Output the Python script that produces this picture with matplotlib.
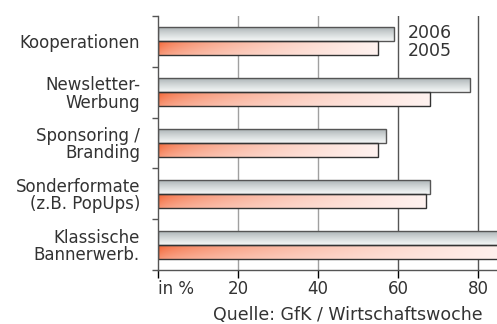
import numpy as np
import matplotlib.pyplot as plt

# Werbeformen, Angaben in %
categories = ["Kooperationen", "Newsletter-\nWerbung", "Sponsoring /\nBranding",
              "Sonderformate\n(z.B. PopUps)", "Klassische\nBannerwerb."]
vals_2006 = [59, 78, 57, 68, 90]
vals_2005 = [55, 68, 55, 67, 88]
xticks = [0, 20, 40, 60, 80]
xtick_labels = ["in %", "20", "40", "60", "80"]

TXT = "#333333"
DARK = "#555555"

fig = plt.figure(figsize=(4.97, 3.24), dpi=100)
ax = fig.add_axes([158 / 497, 54 / 324, 339 / 497, 254 / 324])

# gridlines (light for 20/40, dark for 60/80)
grid_cols = {0: DARK, 20: "#a0a0a0", 40: "#a0a0a0", 60: DARK, 80: DARK}
for x in xticks[1:]:
    ax.axvline(x, color=grid_cols[x], lw=1, zorder=1)

h = 0.275
off = 0.137


def silver(n=40):
    t = np.linspace(0, 1, n)[:, None, None] ** 0.8
    dark = np.array([0.66, 0.69, 0.70])
    light = np.array([0.96, 0.97, 0.97])
    img = dark + (light - dark) * t
    return np.repeat(img, 2, axis=1)


def orange(n=40, m=200):
    t = np.linspace(0, 1, n)[:, None, None]
    s = np.linspace(0, 1, m)[None, :, None]
    org = np.array([0.95, 0.36, 0.16])
    end = np.array([1.0, 0.95, 0.94])
    k = (1 - s ** 0.5) * (1 - 0.35 * t)
    return end - (end - org) * k


for i, (a, b) in enumerate(zip(vals_2006, vals_2005)):
    y6 = i - off
    y5 = i + off
    ax.imshow(silver(), extent=(0, a, y6 + h / 2, y6 - h / 2), origin="upper",
              aspect="auto", zorder=2, interpolation="bilinear")
    ax.imshow(orange(), extent=(0, b, y5 + h / 2, y5 - h / 2), origin="upper",
              aspect="auto", zorder=2, interpolation="bilinear")
ax.barh([i - off for i in range(len(categories))], vals_2006, height=h,
        fill=False, edgecolor=DARK, lw=1, zorder=3)
ax.barh([i + off for i in range(len(categories))], vals_2005, height=h,
        fill=False, edgecolor="#333333", lw=1, zorder=3)
ax.set_xlim(0, 84.75)
ax.set_ylim(4.5, -0.5)

# spines
for s in ["top", "right"]:
    ax.spines[s].set_visible(False)
for s in ["left", "bottom"]:
    ax.spines[s].set_color(DARK)
    ax.spines[s].set_linewidth(1)
    ax.spines[s].set_zorder(4)

# y axis: labels at centres, ticks at boundaries
ax.set_yticks(range(len(categories)))
ax.set_yticklabels(categories, fontsize=12, color=TXT, ha="right")
ax.tick_params(axis="y", which="major", length=0, pad=13)
ax.set_yticks(np.arange(-0.5, len(categories)), minor=True)
ax.tick_params(axis="y", which="minor", length=4.5, width=1, color=DARK)
for t in ax.get_yticklabels():
    t.set_linespacing(0.95)

# x axis
ax.set_xticks(xticks)
ax.set_xticklabels(xtick_labels, fontsize=12, color=TXT)
ax.tick_params(axis="x", length=5.5, width=1, pad=2)
for tk, x in zip(ax.xaxis.get_major_ticks(), xticks):
    tk.tick1line.set_color(grid_cols[x])
ax.get_xticklabels()[0].set_ha("left")

# legend-like year labels
ax.text(62.5, -0.16, "2006", fontsize=12.5, color=TXT, va="center", zorder=5)
ax.text(62.5, 0.19, "2005", fontsize=12.5, color=TXT, va="center", zorder=5)

fig.text(213 / 497, 1 - 315 / 324, "Quelle: GfK / Wirtschaftswoche",
         fontsize=12.5, color=TXT, va="center", ha="left")

fig.savefig("out.png", dpi=100)
